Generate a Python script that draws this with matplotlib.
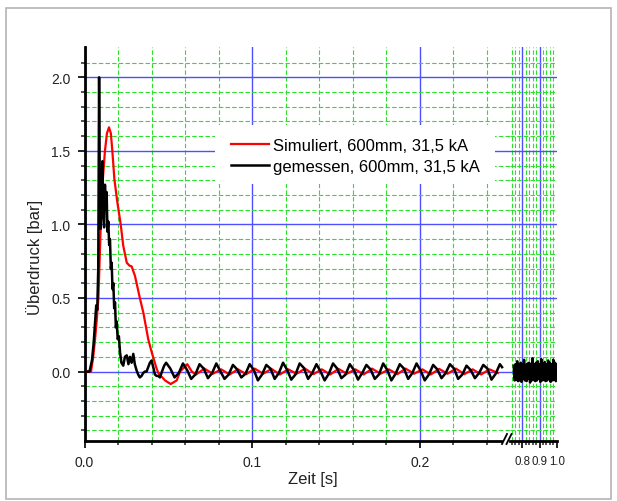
import matplotlib.pyplot as plt
from matplotlib.patches import Rectangle
from matplotlib.lines import Line2D
from matplotlib.ticker import MultipleLocator, FixedLocator, FormatStrFormatter

plt.rcParams['font.family'] = ['Liberation Sans', 'DejaVu Sans']

# ---------------------------------------------------------------------------
# Data
# ---------------------------------------------------------------------------
# Simulated overpressure, early part (s, bar)
red_t = [0.0, 0.0039, 0.0052, 0.0063, 0.0073, 0.0083, 0.0090, 0.0097, 0.0109,
         0.0122, 0.0134, 0.0146, 0.0157, 0.0166, 0.0178, 0.0196, 0.0216,
         0.0231, 0.0252, 0.0268, 0.0281, 0.0301, 0.0330, 0.0351, 0.0380,
         0.0401, 0.0430, 0.0440, 0.0480, 0.0514, 0.0550, 0.0570, 0.0613,
         0.0640,
         0.0665, 0.0715, 0.0765, 0.0815, 0.0865, 0.0915, 0.0965, 0.1015,
         0.1065, 0.1115, 0.1165, 0.1215, 0.1265, 0.1315, 0.1365, 0.1415,
         0.1465, 0.1515, 0.1565, 0.1615, 0.1665, 0.1715, 0.1765, 0.1815,
         0.1865, 0.1915, 0.1965, 0.2015, 0.2065, 0.2115, 0.2165, 0.2215,
         0.2265, 0.2315, 0.2365, 0.2415, 0.2465]
red_y = [0.0, 0.0, 0.1, 0.22, 0.35, 0.5, 0.75, 1.0, 1.3,
         1.5, 1.62, 1.66, 1.62, 1.5, 1.31, 1.15, 1.0,
         0.855, 0.74, 0.72, 0.715, 0.65, 0.5, 0.4, 0.22,
         0.13, 0.02, -0.01, -0.06, -0.085, -0.06, 0.0, 0.05,
         0.0,
         -0.02, 0.02, -0.015, 0.015, -0.02, 0.015, -0.018, 0.02,
         -0.015, 0.018, -0.02, 0.015, -0.015, 0.02, -0.018, 0.015,
         -0.02, 0.018, -0.015, 0.015, -0.02, 0.02, -0.015, 0.015,
         -0.018, 0.02, -0.015, 0.015, -0.02, 0.018, -0.015, 0.02,
         -0.018, 0.015, -0.02, 0.015, -0.01]

# Measured overpressure, early part (s, bar)
black_t = [0.0, 0.0030, 0.0045, 0.0055, 0.0063, 0.0070, 0.0076, 0.0082,
           0.0087, 0.0091, 0.0096, 0.0101, 0.0107, 0.0112, 0.0117, 0.0122,
           0.0127, 0.0132, 0.0137, 0.0142, 0.0147, 0.0152, 0.0157, 0.0162,
           0.0167, 0.0172, 0.0177, 0.0182, 0.0187, 0.0192, 0.0198, 0.0205,
           0.0212, 0.0220, 0.0231, 0.0241, 0.0252, 0.0262, 0.0271, 0.0281,
           0.0291, 0.0300, 0.0310, 0.0320, 0.0330, 0.0340, 0.0350, 0.0360,
           0.0370, 0.0380, 0.0390, 0.0400, 0.0410, 0.0420, 0.0430, 0.0440,
           0.0450, 0.0462, 0.0475,
           0.0487, 0.0512, 0.0537, 0.0562, 0.0587, 0.0612, 0.0636, 0.0661,
           0.0686, 0.0711, 0.0736, 0.0761, 0.0786, 0.0811, 0.0835, 0.0860,
           0.0885, 0.0910, 0.0935, 0.0960, 0.0985, 0.1010, 0.1034, 0.1059,
           0.1084, 0.1109, 0.1134, 0.1159, 0.1184, 0.1209, 0.1233, 0.1258,
           0.1283, 0.1308, 0.1333, 0.1358, 0.1383, 0.1408, 0.1432, 0.1457,
           0.1482, 0.1507, 0.1532, 0.1557, 0.1582, 0.1607, 0.1631, 0.1656,
           0.1681, 0.1706, 0.1731, 0.1756, 0.1781, 0.1806, 0.1830, 0.1855,
           0.1880, 0.1905, 0.1930, 0.1955, 0.1980, 0.2005, 0.2029, 0.2054,
           0.2079, 0.2104, 0.2129, 0.2154, 0.2179, 0.2204, 0.2228, 0.2253,
           0.2278, 0.2303, 0.2328, 0.2353, 0.2378, 0.2403, 0.2427, 0.2452,
           0.2477, 0.2490]
black_y = [0.0, 0.0, 0.08, 0.2, 0.33, 0.45, 0.42, 0.7,
           2.0, 1.3, 0.97, 1.2, 1.43, 1.05, 0.98, 1.27,
           1.1, 1.22, 0.95, 1.02, 0.86, 0.9, 0.7, 0.74,
           0.56, 0.6, 0.43, 0.47, 0.3, 0.34, 0.22, 0.24,
           0.13, 0.06, 0.04, 0.1, 0.11, 0.05, 0.1, 0.06,
           0.12, 0.05, 0.01, -0.02, -0.04, -0.03, -0.01, 0.0,
           0.0, 0.03, 0.06, 0.075, 0.03, -0.02, -0.03, -0.03,
           -0.04, 0.0, 0.04,
           0.06, 0.02, -0.04, -0.01, 0.055, 0.01, -0.05, -0.02,
           0.05, 0.02, -0.045, -0.01, 0.055, 0.0, -0.05, -0.02,
           0.045, 0.015, -0.04, -0.015, 0.05, 0.01, -0.06, -0.02,
           0.045, 0.02, -0.05, -0.01, 0.06, 0.01, -0.055, -0.02,
           0.055, 0.025, -0.05, -0.01, 0.05, 0.0, -0.06, -0.015,
           0.055, 0.02, -0.045, -0.02, 0.05, 0.01, -0.055, -0.01,
           0.045, 0.015, -0.05, -0.02, 0.055, 0.01, -0.06, -0.015,
           0.05, 0.02, -0.05, -0.01, 0.055, 0.005, -0.06, -0.02,
           0.045, 0.015, -0.045, -0.01, 0.05, 0.02, -0.05, -0.02,
           0.04, 0.01, -0.045, -0.01, 0.045, 0.02, -0.055, -0.015,
           0.05, 0.03]

# Measured overpressure, late part (s, bar)
black_far_t = [0.750, 0.755, 0.760, 0.765, 0.770, 0.775, 0.780, 0.785, 0.790,
               0.795, 0.800, 0.805, 0.810, 0.815, 0.820, 0.825, 0.830, 0.835,
               0.840, 0.845, 0.850, 0.855, 0.860, 0.865, 0.870, 0.875, 0.880,
               0.885, 0.890, 0.895, 0.900, 0.905, 0.910, 0.915, 0.920, 0.925,
               0.930, 0.935, 0.940, 0.945, 0.950, 0.955, 0.960, 0.965, 0.970,
               0.975, 0.980, 0.985, 0.990, 0.995, 1.000]
black_far_y = [0.04, -0.06, 0.05, -0.055, 0.07, -0.065, 0.045, -0.06, 0.06,
               -0.07, 0.05, -0.05, 0.08, -0.06, 0.045, -0.065, 0.055, -0.05,
               0.06, -0.075, 0.05, -0.06, 0.09, -0.055, 0.05, -0.065, 0.06,
               -0.06, 0.07, -0.05, 0.05, -0.07, 0.085, -0.06, 0.05, -0.055,
               0.065, -0.065, 0.05, -0.06, 0.075, -0.05, 0.06, -0.07, 0.05,
               -0.06, 0.08, -0.055, 0.06, -0.065, 0.05]

labels = ["Simuliert, 600mm, 31,5 kA", "gemessen, 600mm, 31,5 kA"]

y_minor = [-0.4, -0.3, -0.2, -0.1, 0.1, 0.2, 0.3, 0.4, 0.6, 0.7, 0.8, 0.9,
           1.1, 1.2, 1.3, 1.4, 1.6, 1.7, 1.8, 1.9, 2.1]

# ---------------------------------------------------------------------------
# Layout (pixel based, figure is 617 x 502)
# ---------------------------------------------------------------------------
W, H = 617, 502
X0, X_BRK, X_R0, X_R1 = 84.5, 509.6, 510.3, 556.7
Y_TOP, Y_BOT = 48.0, 441.7

BLUE = "#4f4fff"
GREEN = "#2ee02e"
INK = "#222222"

fig = plt.figure(figsize=(W / 100, H / 100), dpi=100)
ax = fig.add_axes([X0 / W, 1 - Y_BOT / H, (X_BRK - X0) / W, (Y_BOT - Y_TOP) / H])
ax2 = fig.add_axes([X_R0 / W, 1 - Y_BOT / H, (X_R1 - X_R0) / W, (Y_BOT - Y_TOP) / H],
                   sharey=ax)

for a in (ax, ax2):
    a.set_axisbelow(True)
    a.grid(which="major", color=BLUE, lw=1.0)
    a.grid(which="minor", color=GREEN, lw=0.8, ls=(0, (4, 2)))
    for s in ("top", "right"):
        a.spines[s].set_visible(False)
    a.spines["bottom"].set_linewidth(2.0)
    a.tick_params(which="major", direction="out", length=5, width=1.4,
                  labelsize=10, colors=INK, pad=5)
    a.tick_params(which="minor", direction="out", length=3, width=1.1,
                  colors=INK)

# white legend area hides the grid
ax.add_patch(Rectangle(((215 - X0) / (X_BRK - X0), (Y_BOT - 185) / (Y_BOT - Y_TOP)),
                       (495 - 215) / (X_BRK - X0), (185 - 126) / (Y_BOT - Y_TOP),
                       transform=ax.transAxes, facecolor="white",
                       edgecolor="none", zorder=1))

ax.plot(red_t, red_y, color="#ff0000", lw=1.6, label=labels[0], zorder=3)
ax.plot(black_t, black_y, color="#000000", lw=1.8, label=labels[1], zorder=4)
ax2.plot(black_far_t, black_far_y, color="#000000", lw=1.8, zorder=4)

ax.set_xlim(0, 0.2535)
ax.set_ylim(-0.47, 2.206)
ax.xaxis.set_major_locator(MultipleLocator(0.1))
ax.xaxis.set_minor_locator(MultipleLocator(0.02))
ax.yaxis.set_major_locator(MultipleLocator(0.5))
ax.yaxis.set_minor_locator(FixedLocator(y_minor))
ax.xaxis.set_major_formatter(FormatStrFormatter("%.1f"))
ax.yaxis.set_major_formatter(FormatStrFormatter("%.1f"))
ax.spines["left"].set_linewidth(2.0)
ax.spines["bottom"].set_bounds(0, 0.2485)

ax2.set_xlim(0.73, 1.0)
ax2.xaxis.set_major_locator(FixedLocator([0.8, 0.9, 1.0]))
ax2.xaxis.set_minor_locator(FixedLocator([0.74, 0.76, 0.78, 0.82, 0.84, 0.86,
                                          0.88, 0.92, 0.94, 0.96, 0.98]))
ax2.xaxis.set_major_formatter(FormatStrFormatter("%.1f"))
ax2.spines["left"].set_visible(False)
ax2.tick_params(axis="y", which="both", left=False, labelleft=False)
ax2.tick_params(axis="x", which="major", labelsize=8.3)
ax2.xaxis.get_major_ticks()[2].gridline.set_visible(False)

ax.set_ylabel("Überdruck [bar]", fontsize=12, color=INK)
ax.yaxis.set_label_coords((43 - X0) / (X_BRK - X0), (Y_BOT - 257) / (Y_BOT - Y_TOP))
fig.text(313 / W, 1 - 480 / H, "Zeit [s]", ha="center", va="center",
         fontsize=12, color=INK)

ax.legend(loc="upper left",
          bbox_to_anchor=((231 - X0) / (X_BRK - X0), (Y_BOT - 139) / (Y_BOT - Y_TOP)),
          frameon=False, fontsize=12, handlelength=2.3, handletextpad=0.2,
          labelspacing=0.35, borderpad=0, borderaxespad=0)

# axis break marks
for dx in (0, 4.5):
    fig.add_artist(Line2D([(502 + dx) / W, (507 + dx) / W],
                          [1 - 445 / H, 1 - 435 / H], color="black", lw=1.3))

# outer frame
fig.add_artist(Rectangle((6 / W, 1 - 500 / H), 605 / W, 491 / H,
                         transform=fig.transFigure, fill=False,
                         edgecolor="#b4b4b4", lw=1.2))

fig.savefig("out.png", dpi=100, facecolor="white")
